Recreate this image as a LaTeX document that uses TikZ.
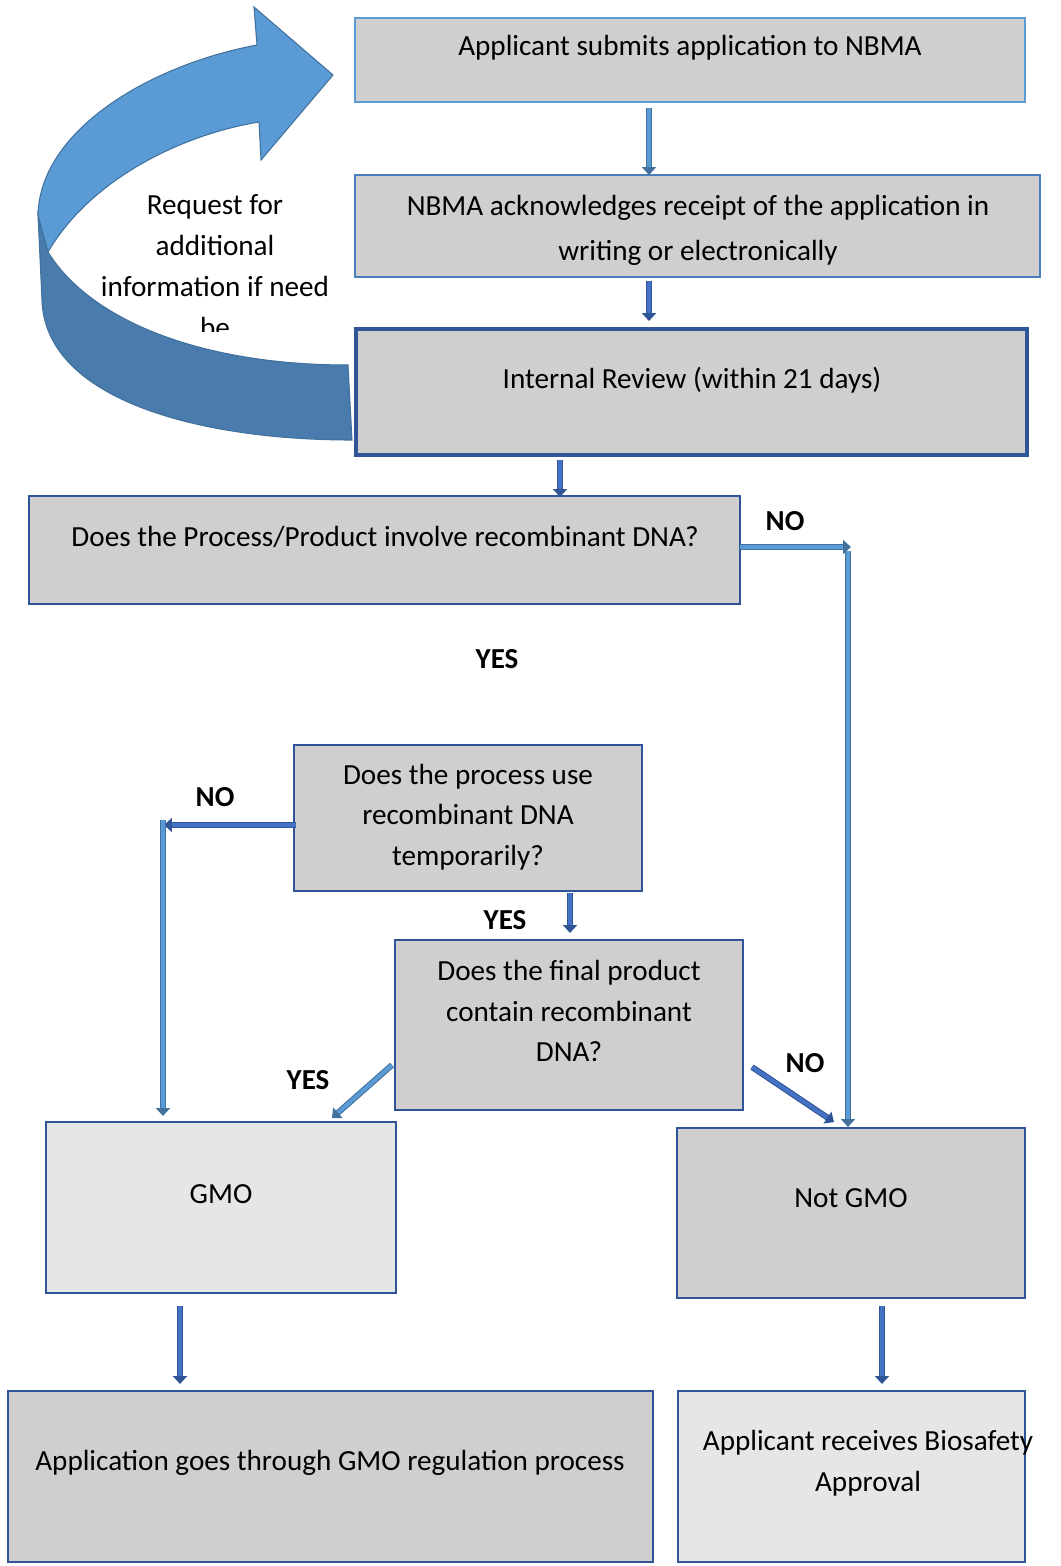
\documentclass[tikz,border=0pt]{standalone}
\usepackage{fontspec}
\setmainfont{Carlito}
\usetikzlibrary{arrows.meta,fit}
\definecolor{grayD}{HTML}{D0CECE}
\definecolor{grayL}{HTML}{E7E6E6}
\definecolor{edgeL}{HTML}{5B9BD5}
\definecolor{edgeM}{HTML}{4A7EBB}
\definecolor{edgeD}{HTML}{2F5597}
\definecolor{arrL}{HTML}{5B9BD5}
\definecolor{arrD}{HTML}{4472C4}
\definecolor{arrO}{HTML}{41719C}
\definecolor{curveL}{HTML}{5B9BD5}
\definecolor{curveD}{HTML}{497CAD}
\begin{document}
\begin{tikzpicture}[x=0.02cm,y=-0.02cm,
  box/.style={inner sep=0pt, fill=grayD, draw=edgeD, line width=1.2pt},
  txt/.style={inner sep=0pt, align=center, font=\fontsize{16.6}{23.2}\selectfont},
  lbl/.style={inner sep=0pt, font=\fontsize{16.5}{20}\selectfont\bfseries},
  arrowL/.style={draw=arrO, line width=0.6pt, double=arrL, double distance=2.2pt,
    -{Triangle[width=8pt,length=4.5pt]}},
  arrowD/.style={draw=edgeD, line width=0.6pt, double=arrD, double distance=2.2pt,
    -{Triangle[width=8pt,length=4.5pt]}}]
\useasboundingbox (0,0) rectangle (1061,1566);
\fill[white] (0,0) rectangle (1061,1566);

% curved feedback arrow
\filldraw[fill=curveD, draw=arrO, line width=0.6pt]
  (38,215) -- (42,300) .. controls (45,400) and (200,440) .. (352,440)
  -- (348,365) .. controls (200,365) and (90,320) .. (48,252) -- cycle;
\filldraw[fill=curveL, draw=arrO, line width=0.6pt]
  (48,252) .. controls (90,180) and (180,135) .. (259,122)
  -- (261,160) -- (333,75) -- (254,7) -- (257,45)
  .. controls (150,65) and (40,130) .. (38,215) -- cycle;
\begin{scope}
  \clip (60,180) rectangle (360,331);
  \node[txt] (req) at (215,266) {Request for\\additional\\information if need\\be};
\end{scope}

% boxes
\node[box, draw=edgeL, line width=0.8pt, fit={(355,18) (1025,102)}] (b1) {};
\node[box, draw=edgeM, line width=1.3pt, fit={(355,175) (1040,277)}] (b2) {};
\node[box, line width=1.8pt, fit={(356,329) (1027,455)}] (b3) {};
\node[box, line width=1.6pt, fit={(29,496) (740,604)}] (b4) {};
\node[box, fit={(294,745) (642,891)}] (b5) {};
\node[box, fit={(395,940) (743,1110)}] (b6) {};
\node[box, fill=grayL, fit={(46,1122) (396,1293)}] (b7) {};
\node[box, fit={(677,1128) (1025,1298)}] (b8) {};
\node[box, fit={(8,1391) (653,1562)}] (b9) {};
\node[box, fill=grayL, fit={(678,1391) (1025,1562)}] (b10) {};

% texts
\node[txt] (t1) at (690,48) {Applicant submits application to NBMA};
\node[txt] (t2) at (698,230) {NBMA acknowledges receipt of the application in\\[2.3pt]writing or electronically};
\node[txt] (t3) at (692,380) {Internal Review (within 21 days)};
\node[txt] (t4) at (385,537) {Does the Process/Product involve recombinant DNA?};
\node[txt] (t5) at (468,817) {Does the process use\\recombinant DNA\\temporarily?};
\node[txt] (t6) at (569,1011) {Does the final product\\contain recombinant\\DNA?};
\node[txt] (t7) at (221,1194) {GMO};
\node[txt] (t8) at (851,1198) {Not GMO};
\node[txt] (t9) at (330,1463) {Application goes through GMO regulation process};
\node[txt] (t10) at (868,1463) {Applicant receives Biosafety\\Approval};

% labels
\node[lbl] (l1) at (785,521) {NO};
\node[lbl] (l2) at (497,659) {YES};
\node[lbl] (l3) at (215,797) {NO};
\node[lbl] (l4) at (505,920) {YES};
\node[lbl] (l5) at (308,1080) {YES};
\node[lbl] (l6) at (805,1063) {NO};

% connector coordinates
\coordinate (c1a) at (649,108);
\coordinate (c1b) at (649,175);
\coordinate (c2a) at (649,281);
\coordinate (c2b) at (649,321);
\coordinate (c3a) at (560,460);
\coordinate (c3b) at (560,497);
\coordinate (c4a) at (740,547);
\coordinate (c4b) at (851,547);
\coordinate (c4c) at (848,551);
\coordinate (c4d) at (848,1127);
\coordinate (c5a) at (296,825);
\coordinate (c5b) at (164,825);
\coordinate (c5c) at (163,820);
\coordinate (c5d) at (163,1116);
\coordinate (c6a) at (570,893);
\coordinate (c6b) at (570,933);
\coordinate (c7a) at (392,1065);
\coordinate (c7b) at (332,1118);
\coordinate (c8a) at (752,1067);
\coordinate (c8b) at (834,1122);
\coordinate (c9a) at (180,1306);
\coordinate (c9b) at (180,1384);
\coordinate (c10a) at (882,1306);
\coordinate (c10b) at (882,1384);

% connectors
\draw[arrowL] (c1a) -- (c1b);
\draw[arrowD] (c2a) -- (c2b);
\draw[arrowD] (c3a) -- (c3b);
\draw[arrowL] (c4a) -- (c4b);
\draw[arrowL] (c4c) -- (c4d);
\draw[arrowD] (c5a) -- (c5b);
\draw[arrowL] (c5c) -- (c5d);
\draw[arrowD] (c6a) -- (c6b);
\draw[arrowL] (c7a) -- (c7b);
\draw[arrowD] (c8a) -- (c8b);
\draw[arrowD] (c9a) -- (c9b);
\draw[arrowD] (c10a) -- (c10b);
\end{tikzpicture}
\end{document}
